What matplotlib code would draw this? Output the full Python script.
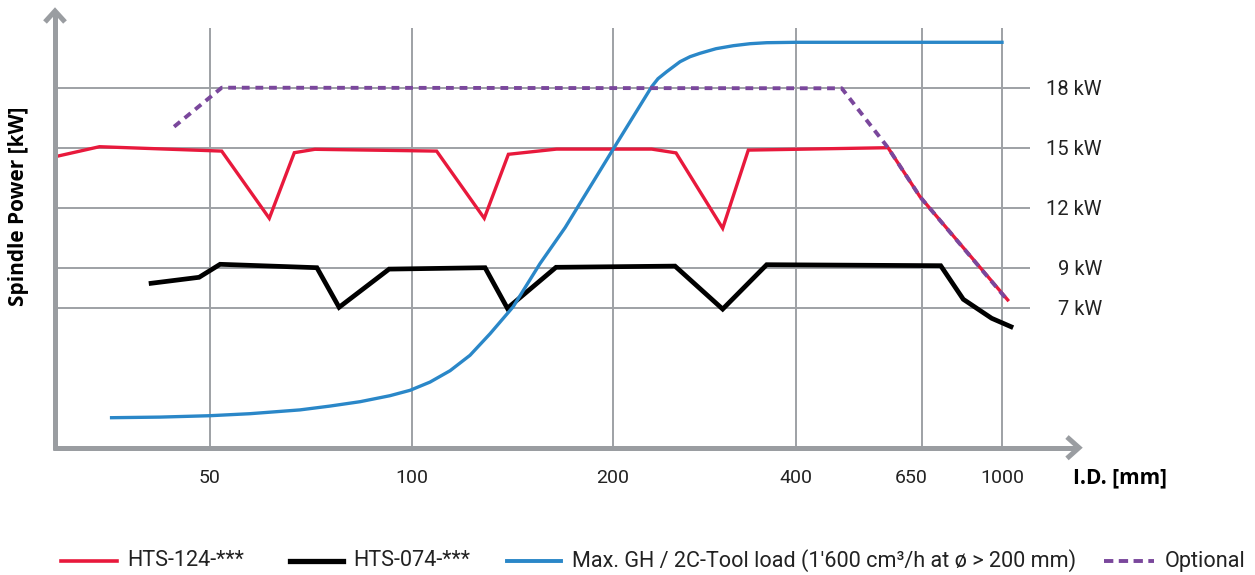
import numpy as np
import matplotlib
matplotlib.use("Agg")
import matplotlib.pyplot as plt
from matplotlib.lines import Line2D
from matplotlib.ticker import NullLocator
from matplotlib.transforms import ScaledTranslation

W, H = 1255, 575

# x axis: I.D. ticks and where they sit across the figure (px)
id_ticks = [50, 100, 200, 400, 650, 1000]
tick_px = [210, 411.7, 612.7, 795.7, 922, 1002]
kw_ticks = [7, 9, 12, 15, 18]
kw_labels = ["7 kW", "9 kW", "12 kW", "15 kW", "18 kW"]

# HTS-124-***
red_id = [11.6, 22.6, 52.9, 64.7, 70.9, 76.0, 112.4, 136.1, 148.1, 172.1,
          242.6, 269.2, 320.2, 348.2, 582.7, 646.0, 1024.9]
red_kw = [14.55, 15.05, 14.83, 11.47, 14.75, 14.92, 14.83, 11.47, 14.67, 14.93,
          14.93, 14.74, 10.97, 14.88, 15.0, 12.55, 7.39]

# HTS-074-***
black_id = [35.4, 47.3, 52.5, 76.5, 82.0, 94.4, 136.5, 147.6, 171.8, 268.1,
            320.2, 368.3, 731.8, 830.7, 954.9, 1039.4]
black_kw = [8.22, 8.52, 9.17, 9.0, 7.02, 8.93, 9.0, 6.97, 9.02, 9.08,
            6.93, 9.15, 9.1, 7.42, 6.47, 6.05]

# Max. GH / 2C-Tool load
blue_id = [25.6, 37.6, 50, 59.9, 72.3, 79.7, 87.2, 94.6, 99.6, 109.1, 119.1,
           129.0, 139.0, 150.5, 163.8, 176.3, 200.7, 229.8, 242.6, 249.5, 259.0,
           273.6, 284.5, 295.4, 312.9, 331.8, 350.1, 368.3, 400, 1000]
blue_kw = [1.5, 1.53, 1.6, 1.7, 1.89, 2.08, 2.3, 2.6, 2.87, 3.28, 3.85,
           4.62, 5.7, 7.05, 9.2, 11.0, 14.94, 17.1, 18.05, 18.45, 18.8,
           19.3, 19.55, 19.72, 19.95, 20.1, 20.2, 20.25, 20.27, 20.27]

# Optional
opt_id = [41.1, 52.9, 491.1, 582.7, 646.0, 1022]
opt_kw = [16.05, 18.0, 17.97, 15.0, 12.55, 7.4]

RED = "#e8193c"
BLUE = "#2a87c8"
PURPLE = "#7a479c"
GRID = "#9ea1a5"
AXIS = "#9a9da1"
TXT = "#222222"


def anchors():
    ids = np.array(id_ticks, float)
    px = np.array(tick_px, float)
    lo = px[0] - (ids[0] - 1) * (px[1] - px[0]) / (ids[1] - ids[0])
    hi = px[-1] + (3000 - ids[-1]) * (px[-1] - px[-2]) / (ids[-1] - ids[-2])
    return np.r_[1, ids, 3000], np.r_[lo, px, hi]


A_ID, A_PX = anchors()


def fwd(x):
    return np.interp(x, A_ID, A_PX)


def inv(p):
    return np.interp(p, A_PX, A_ID)


def fpos(x, y):
    return x / W, 1 - y / H


plt.rcParams["font.family"] = ["Roboto", "DejaVu Sans"]

fig = plt.figure(figsize=(W / 100, H / 100), dpi=100)
ax = fig.add_axes([55 / W, 127.3 / H, 975 / W, 419.7 / H])

ax.set_xscale("function", functions=(fwd, inv))
ax.set_xlim(inv(55), inv(1030))
ax.set_ylim(0, 20.985)

ax.plot(black_id, black_kw, color="black", lw=3.4, solid_joinstyle="miter", zorder=3)
ax.plot(red_id, red_kw, color=RED, lw=2.4, solid_joinstyle="miter", zorder=4)
ax.plot(blue_id, blue_kw, color=BLUE, lw=2.4, solid_joinstyle="round", zorder=5)
ax.plot(opt_id, opt_kw, color=PURPLE, lw=2.8, dashes=(2.0, 1.5),
        dash_capstyle="butt", zorder=6)

ax.set_xticks(id_ticks)
ax.set_xticklabels([str(v) for v in id_ticks])
ax.xaxis.set_minor_locator(NullLocator())
ax.set_yticks(kw_ticks)
ax.set_yticklabels(kw_labels)
ax.yaxis.tick_right()
ax.tick_params(axis="x", length=0, pad=15, labelsize=14, labelcolor=TXT)
ax.tick_params(axis="y", length=0, pad=51.8, labelsize=14.5, labelcolor=TXT)
for lab in ax.get_yticklabels():
    lab.set_horizontalalignment("right")
# the 650 label sits a little left of its grid line
lab650 = ax.get_xticklabels()[4]
lab650.set_transform(lab650.get_transform() + ScaledTranslation(-0.11, 0, fig.dpi_scale_trans))

ax.grid(True, color=GRID, lw=1.4)
ax.set_axisbelow(True)
for s in ax.spines.values():
    s.set_visible(False)

# axes with open arrow heads
arrow_kw = dict(color=AXIS, lw=3.6, solid_capstyle="butt", solid_joinstyle="miter",
                transform=fig.transFigure)
for xs, ys in [([55, 55], [449.5, 12]), ([53, 1078], [447.7, 447.7]),
               ([45, 55, 65], [22, 11, 22]), ([1067, 1079, 1067], [437, 447.7, 458.4])]:
    pts = [fpos(x, y) for x, y in zip(xs, ys)]
    fig.add_artist(Line2D([p[0] for p in pts], [p[1] for p in pts], **arrow_kw))

fig.text(*fpos(19, 206.7), "Spindle Power [kW]", rotation=90, ha="center", va="center",
         fontsize=15, fontweight="bold", family=["Open Sans", "DejaVu Sans"])
fig.text(*fpos(1073, 477.5), "I.D. [mm]", ha="left", va="center",
         fontsize=15, fontweight="bold", family=["Open Sans", "DejaVu Sans"])

# legend row, laid out by hand like the original
legend_y = 561
legend_items = [
    ("HTS-124-***", 61, 116.5, 127.7, dict(color=RED, lw=2.6)),
    ("HTS-074-***", 290, 343, 353, dict(color="black", lw=3.8)),
    ("Max. GH / 2C-Tool load (1'600 cm³/h at ø > 200 mm)", 507, 561, 572,
     dict(color=BLUE, lw=2.8)),
    ("Optional", 1104, 1154, 1164.5,
     dict(color=PURPLE, lw=2.8, dashes=(2.4, 1.4), dash_capstyle="butt")),
]
for label, x0, x1, xt, style in legend_items:
    a, b = fpos(x0, legend_y), fpos(x1, legend_y)
    fig.add_artist(Line2D([a[0], b[0]], [a[1], b[1]], transform=fig.transFigure, **style))
    fig.text(*fpos(xt, legend_y), label, ha="left", va="center", fontsize=15.6, color=TXT)

fig.savefig("out.png", dpi=100)
